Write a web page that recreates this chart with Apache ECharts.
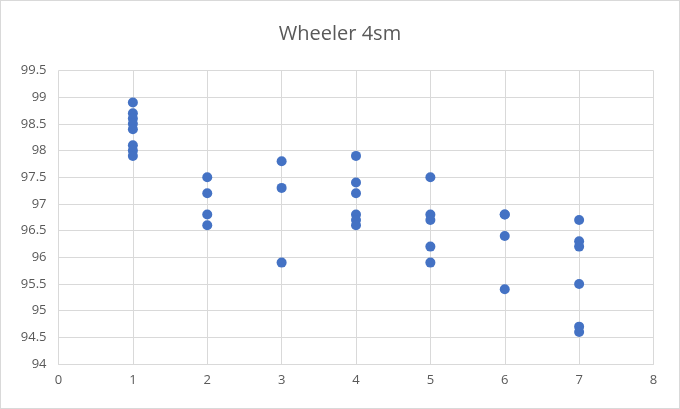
<!DOCTYPE html>
<html><head><meta charset="utf-8">
<script src="https://cdn.jsdelivr.net/npm/echarts@6/dist/echarts.min.js"></script>
<style>html,body{margin:0;padding:0;background:#fff}#c{width:680px;height:409px;box-sizing:border-box;border:1px solid #d9d9d9}</style>
</head><body><div id="c"></div>
<script>
const xValues = [1,1,1,1,1,1,1,1, 2,2,2,2, 3,3,3, 4,4,4,4,4,4, 5,5,5,5,5, 6,6,6,6, 7,7,7,7,7,7];
const yValues = [98.9,98.7,98.6,98.5,98.4,98.1,98.0,97.9, 97.5,97.2,96.8,96.6, 97.8,97.3,95.9, 97.9,97.4,97.2,96.8,96.7,96.6, 97.5,96.8,96.7,96.2,95.9, 96.8,96.8,96.4,95.4, 96.7,96.3,96.2,95.5,94.7,94.6];
const title = 'Wheeler 4sm';
const points = xValues.map((x,i)=>[x,yValues[i]]);
const chart = echarts.init(document.getElementById('c'));
chart.setOption({
  animation:false,
  title:{text:title,left:'center',top:18,textStyle:{fontFamily:'Open Sans, sans-serif',fontSize:20,fontWeight:'normal',color:'#595959'}},
  grid:{left:57.5,right:25.5,top:69.5,bottom:44},
  xAxis:{type:'value',min:0,max:8,interval:1,
    axisLine:{show:true,lineStyle:{color:'#d9d9d9'}},axisTick:{show:false},
    splitLine:{show:true,lineStyle:{color:'#d9d9d9',width:1}},
    axisLabel:{color:'#595959',fontSize:13,fontFamily:'Open Sans, sans-serif',margin:10}},
  yAxis:{type:'value',min:94,max:99.5,interval:0.5,
    axisLine:{show:false},axisTick:{show:false},
    splitLine:{show:true,lineStyle:{color:'#d9d9d9',width:1}},
    axisLabel:{color:'#595959',fontSize:13,fontFamily:'Open Sans, sans-serif',margin:12}},
  series:[{type:'scatter',data:points,symbol:'circle',symbolSize:10,itemStyle:{color:'#4472C4',opacity:1}}]
});
</script></body></html>
